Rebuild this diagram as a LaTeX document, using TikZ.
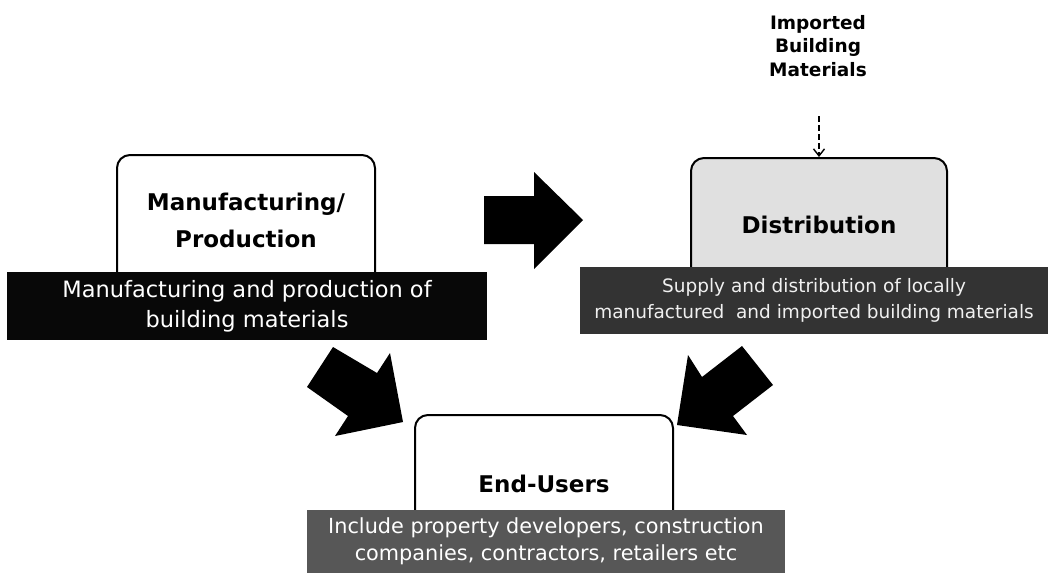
\documentclass[tikz,border=0pt]{standalone}
\usepackage{fontspec}
\setmainfont{DejaVu Sans}
\usetikzlibrary{arrows.meta}
\begin{document}
\begin{tikzpicture}[x=1pt,y=-1pt,
  procbox/.style={draw=black, line width=2pt, rounded corners=13pt, inner sep=0pt, align=center,
    font=\fontsize{23}{37}\selectfont\bfseries},
  bar/.style={inner sep=0pt, align=center},
  blockarrow/.style={fill=black, draw=none},
  importlink/.style={draw=black, line width=1.4pt, dash pattern=on 6pt off 3pt,
    -{Straight Barb[length=7pt,width=11pt,line width=1.4pt]}},
  labeltext/.style={align=center, inner sep=0pt, font=\fontsize{18.5}{23.5}\selectfont\bfseries}
]
\fill[white] (0,0) rectangle (1051,574);
\useasboundingbox (0,0) rectangle (1051,574);

% process boxes
\node[procbox, fill=white, minimum width=258pt, minimum height=130pt] (manu) at (246,220) {Manufacturing/\\Production};
\node[procbox, fill=black!12, minimum width=256pt, minimum height=134pt] (dist) at (819,225) {Distribution};
\node[procbox, fill=white, minimum width=258pt, minimum height=138pt] (endu) at (544,484) {End-Users};

% description bars
\node[bar, fill=black!97, text=white, minimum width=480pt, minimum height=68pt,
  font=\fontsize{22.5}{30}\selectfont] (bar1) at (247,306)
  {Manufacturing and production of\\building materials};
\node[bar, fill=black!80, text=black!6, minimum width=468pt, minimum height=67pt,
  font=\fontsize{18.5}{26}\selectfont] (bar2) at (814,300)
  {Supply and distribution of locally\\manufactured\ \ and imported building materials};
\node[bar, fill=black!66, text=white, minimum width=478pt, minimum height=63pt,
  font=\fontsize{20.8}{27}\selectfont] (bar3) at (546,541)
  {Include property developers, construction\\companies, contractors, retailers etc};

% imported materials
\node[labeltext] (imp) at (818,46) {Imported\\Building\\Materials};
\coordinate (impend) at (819,116);
\draw[importlink] (impend) -- (dist.north);

% block arrows
\fill[blockarrow] (484,196) -- (534,196) -- (534,172) -- (583,220) -- (534,269) -- (534,244) -- (484,244) -- cycle;
\fill[blockarrow] (333,347) -- (377,373) -- (390,353) -- (403,422) -- (335,436) -- (348,416) -- (307,387) -- cycle;
\fill[blockarrow] (742,346) -- (773,385) -- (733,416) -- (747,435) -- (677,425) -- (688,355) -- (702,377) -- cycle;
\end{tikzpicture}
\end{document}
